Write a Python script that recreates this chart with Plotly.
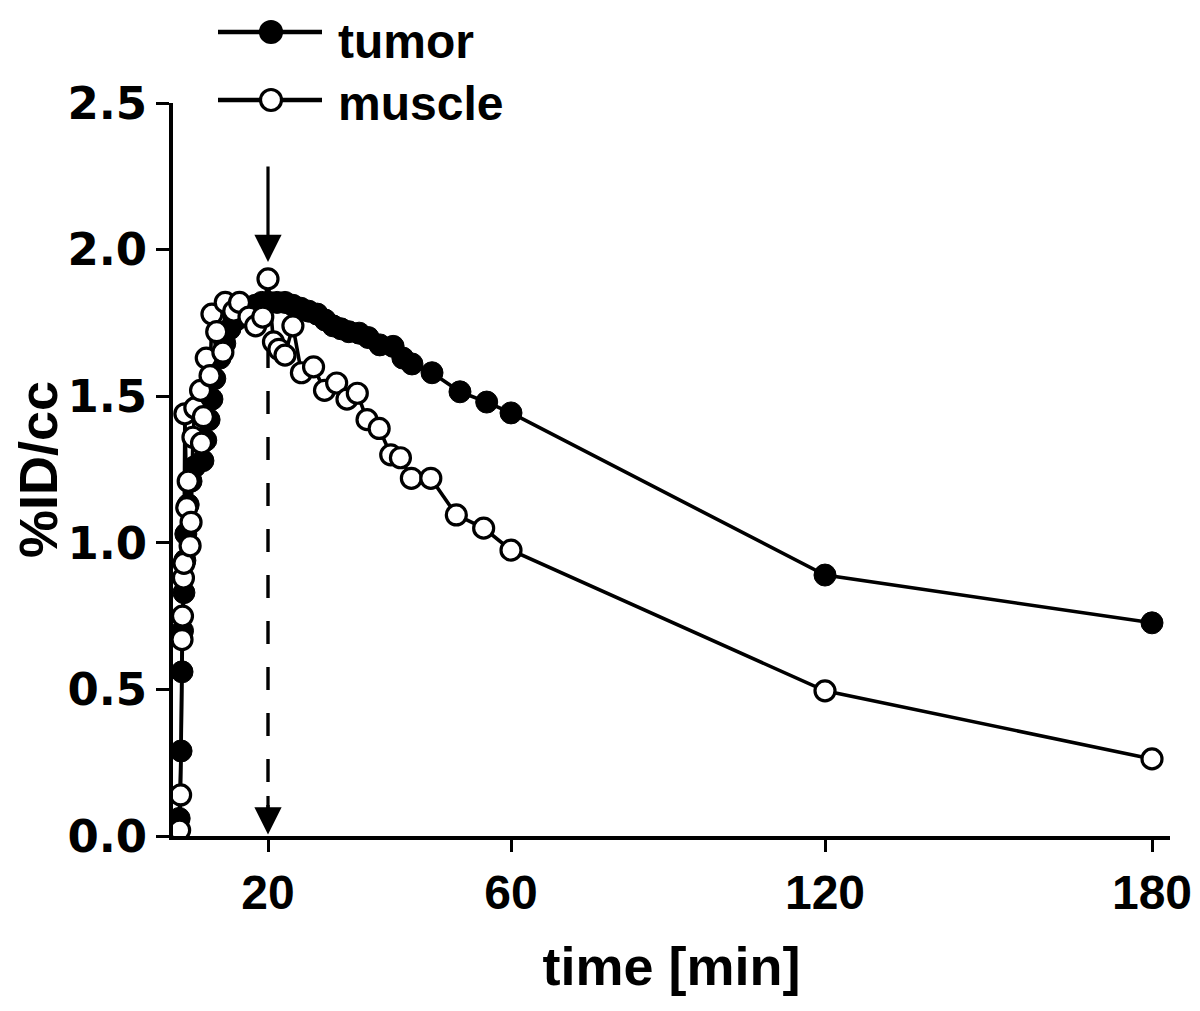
import numpy as np
import plotly.graph_objects as go

# ---------------- data (time in min, %ID/cc) ----------------
tumor_t = [1.3, 1.7, 1.9, 2.0, 2.3, 2.5, 2.7, 3.2, 3.8, 4.6, 6.3, 6.9, 7.6, 8.2, 8.8,
           9.9, 10.9, 12.0, 13.3, 14.5, 15.8, 17.3, 18.7, 20.2, 21.5, 22.8, 24.1,
           25.4, 26.7, 28.1, 29.4, 30.7, 32.0, 33.3, 35.0, 36.5, 38.4, 40.6, 42.2,
           43.7, 47.0, 51.6, 56.0, 60.0, 120.0, 180.0]
tumor_v = [0.06, 0.29, 0.56, 0.70, 0.83, 0.94, 1.03, 1.13, 1.21, 1.26, 1.28, 1.35, 1.42,
           1.49, 1.56, 1.63, 1.68, 1.73, 1.76, 1.79, 1.80, 1.81, 1.82, 1.82, 1.82, 1.82,
           1.81, 1.80, 1.79, 1.78, 1.76, 1.74, 1.73, 1.72, 1.715, 1.70, 1.675, 1.67,
           1.63, 1.61, 1.58, 1.515, 1.48, 1.443, 0.89, 0.727]

muscle_t = [1.4, 1.6, 1.9, 2.0, 2.2, 2.3, 2.5, 2.9, 3.2, 3.6, 3.8, 4.2, 4.6, 5.8, 6.0,
            6.4, 7.0, 7.8, 8.2, 9.2, 10.5, 11.0, 12.8, 14.0, 16.0, 17.4, 18.9, 20.0,
            20.9, 21.8, 22.8, 24.1, 25.5, 27.5, 29.3, 31.3, 33.0, 34.7, 36.3, 38.3,
            40.2, 41.8, 43.6, 46.8, 51.0, 55.5, 60.0, 120.0, 180.0]
muscle_v = [0.02, 0.14, 0.67, 0.75, 0.88, 0.93, 1.44, 1.12, 1.21, 0.99, 1.07, 1.36, 1.46,
            1.52, 1.34, 1.43, 1.63, 1.57, 1.78, 1.72, 1.65, 1.82, 1.79, 1.82, 1.77, 1.74,
            1.77, 1.90, 1.685, 1.66, 1.64, 1.74, 1.58, 1.60, 1.52, 1.545, 1.49, 1.51,
            1.42, 1.39, 1.30, 1.29, 1.22, 1.22, 1.095, 1.05, 0.975, 0.495, 0.263]

x_tick_vals = [20, 60, 120, 180]
y_tick_vals = [0.0, 0.5, 1.0, 1.5, 2.0, 2.5]
marker_time = 20          # arrow / dashed line time
series_names = ["tumor", "muscle"]

# segmented time axis, as in the original figure
SEG_T = [0, 20, 60, 120, 180, 183.3]
SEG_U = [0, 95, 338, 652, 979, 997]


def tscale(t):
    return np.interp(np.asarray(t, dtype=float), SEG_T, SEG_U)


FONT = "Liberation Sans, Arial, sans-serif"
LW = 3.6

fig = go.Figure()
fig.add_trace(go.Scatter(
    x=tscale(tumor_t), y=tumor_v, mode="lines+markers", name=series_names[0],
    line=dict(color="black", width=LW),
    marker=dict(symbol="circle", size=22, color="black", line=dict(color="black", width=1)),
    showlegend=False, cliponaxis=True))
fig.add_trace(go.Scatter(
    x=tscale(muscle_t), y=muscle_v, mode="lines+markers", name=series_names[1],
    line=dict(color="black", width=LW),
    marker=dict(symbol="circle", size=20, color="white", line=dict(color="black", width=3.2)),
    showlegend=False, cliponaxis=True))

xm = float(tscale(marker_time))
# dashed vertical line
fig.add_shape(type="line", xref="x", yref="y", x0=xm, x1=xm, y0=1.675, y1=0.08,
              line=dict(color="black", width=3.4, dash="23px,23px"), layer="below")
# bottom arrow head
fig.add_annotation(x=xm, y=0.005, xref="x", yref="y", ax=0, ay=-40, text="",
                   showarrow=True, arrowhead=2, arrowsize=1.7, arrowwidth=3.2, arrowcolor="black")
# top arrow
fig.add_annotation(x=xm, y=1.958, xref="x", yref="y", ax=0, ay=-97, text="",
                   showarrow=True, arrowhead=2, arrowsize=1.7, arrowwidth=3.2, arrowcolor="black")

# ---------------- manual legend ----------------
def px_x(p):
    return (p - 173) / 997.0


def px_y(p):
    return (836 - p) / 733.0


for name, fill, ypix, typix in [(series_names[0], "black", 32, 42),
                                (series_names[1], "white", 100, 103)]:
    fig.add_shape(type="line", xref="paper", yref="paper",
                  x0=px_x(218), x1=px_x(322), y0=px_y(ypix), y1=px_y(ypix),
                  line=dict(color="black", width=4.5))
    fig.add_shape(type="circle", xref="paper", yref="paper",
                  xsizemode="pixel", ysizemode="pixel",
                  xanchor=px_x(271), yanchor=px_y(ypix),
                  x0=-10.5, x1=10.5, y0=-10.5, y1=10.5,
                  line=dict(color="black", width=3.2), fillcolor=fill)
    fig.add_annotation(x=px_x(337), y=px_y(typix), xref="paper", yref="paper",
                       text=name, showarrow=False, xanchor="left", yanchor="middle",
                       borderpad=0,
                       font=dict(family=FONT, size=48, color="black", weight="bold"))

# the page body has an 8px default margin, so the figure is offset by 8px
fig.update_layout(
    width=1192, height=1003,
    margin=dict(l=165, r=30, t=95, b=175),
    plot_bgcolor="white", paper_bgcolor="white",
    showlegend=False,
)
fig.update_xaxes(
    range=[0, 997], tickmode="array", tickvals=tscale(x_tick_vals).tolist(),
    ticktext=[str(v) for v in x_tick_vals], automargin=False,
    showline=True, linecolor="black", linewidth=3.6,
    ticks="outside", ticklen=12, tickwidth=3.2, tickcolor="black",
    showgrid=False, zeroline=False,
    tickfont=dict(family=FONT, size=48, color="black", weight="bold"),
    title=dict(text="time [min]", standoff=30,
               font=dict(family=FONT, size=54, color="black", weight="bold")),
)
fig.update_yaxes(
    range=[0, 2.5], tickmode="array", tickvals=y_tick_vals,
    ticktext=[f"{v:.1f}" for v in y_tick_vals], automargin=False,
    showline=True, linecolor="black", linewidth=3.6,
    ticks="outside", ticklen=13, tickwidth=3.2, tickcolor="black",
    showgrid=False, zeroline=False,
    tickfont=dict(family="DejaVu Sans, sans-serif", size=45, color="black", weight="bold"),
    title=dict(text="%ID/cc", standoff=22,
               font=dict(family=FONT, size=54, color="black", weight="bold")),
)

fig.write_html("out.html")
